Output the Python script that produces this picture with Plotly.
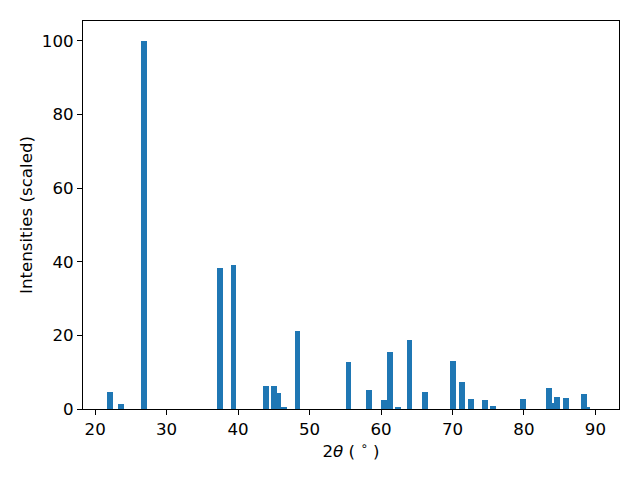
import plotly.graph_objects as go

two_theta = [22.06, 23.6, 26.86, 37.46, 39.35, 43.9, 45.0, 45.6, 46.4, 48.3,
             55.45, 58.3, 60.4, 61.3, 62.4, 64.0, 66.2, 70.08, 71.34, 72.6,
             74.5, 75.7, 79.9, 83.5, 83.95, 84.6, 85.9, 88.4, 88.8]
intensity = [4.6, 1.4, 100.0, 38.2, 39.0, 6.2, 6.2, 4.3, 0.4, 21.1,
             12.8, 5.2, 2.4, 15.5, 0.4, 18.7, 4.6, 13.0, 7.3, 2.7,
             2.4, 0.8, 2.7, 5.7, 1.6, 3.2, 2.9, 4.0, 0.6]

x_ticks = [20, 30, 40, 50, 60, 70, 80, 90]
y_ticks = [0, 20, 40, 60, 80, 100]

FS = 16.67

fig = go.Figure(go.Bar(x=two_theta, y=intensity, width=0.8,
                       marker=dict(color="#1f77b4", line=dict(width=0))))

axis_common = dict(showgrid=False, zeroline=False, showline=True, linecolor="black",
                   linewidth=1, mirror=True, ticks="outside", ticklen=5, tickwidth=1,
                   tickcolor="black", tickfont=dict(family="DejaVu Sans", size=FS, color="black"))

fig.update_xaxes(range=[18.3, 93.3], tickvals=x_ticks,
                 title=dict(text="2<i>θ</i> ( <sup>∘</sup> )", standoff=6,
                            font=dict(family="DejaVu Sans", size=FS, color="black")),
                 **axis_common)
fig.update_yaxes(range=[0, 105.4], tickvals=y_ticks,
                 title=dict(text="Intensities (scaled)", standoff=5,
                            font=dict(family="DejaVu Sans", size=FS, color="black")),
                 **axis_common)

fig.update_layout(width=640, height=480, margin=dict(l=75, r=29, t=13, b=79),
                  plot_bgcolor="white", paper_bgcolor="white", showlegend=False,
                  bargap=0)

fig.write_html("out.html")
